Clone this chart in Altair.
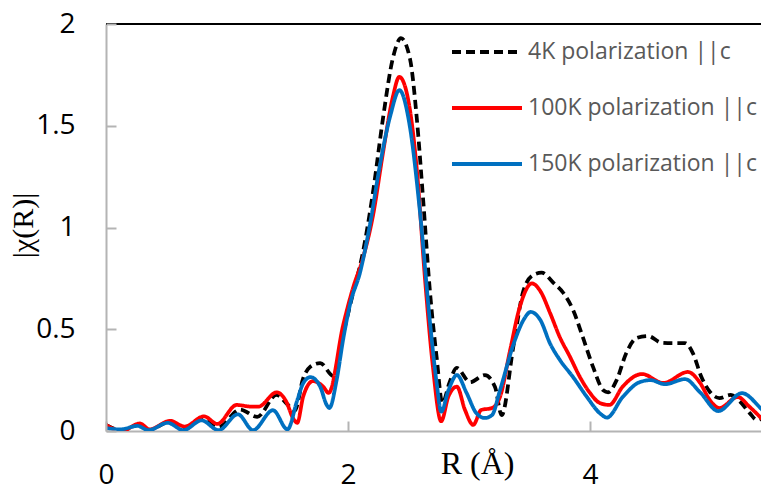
import altair as alt
import pandas as pd

# ---- data ----
series_names = ["4K polarization ||c", "100K polarization ||c", "150K polarization ||c"]

x_4k = [0.0, 0.13, 0.27, 0.36, 0.52, 0.65, 0.80, 0.93, 1.107, 1.25, 1.41, 1.50, 1.56, 1.63, 1.686,
        1.77, 1.88, 1.95, 2.03, 2.124, 2.207, 2.29, 2.37, 2.438, 2.512, 2.568, 2.62, 2.678, 2.733,
        2.78, 2.84, 2.898, 3.008, 3.132, 3.215, 3.27, 3.366, 3.45, 3.53, 3.60, 3.70, 3.78, 3.86,
        3.94, 4.025, 4.11, 4.15, 4.22, 4.30, 4.385, 4.48, 4.59, 4.69, 4.785, 4.85, 4.92, 4.99,
        5.07, 5.16, 5.24, 5.32, 5.38, 5.46, 5.50]
y_4k = [0.03, 0.003, 0.03, 0.004, 0.045, 0.012, 0.062, 0.02, 0.105, 0.07, 0.177, 0.13, 0.10, 0.26, 0.315,
        0.334, 0.27, 0.45, 0.65, 0.88, 1.175, 1.54, 1.83, 1.93, 1.83, 1.54, 1.145, 0.68, 0.36,
        0.137, 0.24, 0.31, 0.24, 0.275, 0.216, 0.078, 0.413, 0.69, 0.766, 0.778, 0.727, 0.678, 0.595,
        0.462, 0.315, 0.20, 0.19, 0.25, 0.383, 0.457, 0.467, 0.434, 0.432, 0.432, 0.383, 0.267, 0.193,
        0.162, 0.177, 0.144, 0.088, 0.054, 0.079, 0.10]

x_100k = [0.0, 0.13, 0.28, 0.36, 0.53, 0.65, 0.81, 0.92, 1.08, 1.20, 1.26, 1.41, 1.49, 1.545, 1.58,
          1.63, 1.71, 1.795, 1.84, 1.96, 2.04, 2.124, 2.207, 2.29, 2.37, 2.424, 2.50, 2.568, 2.636,
          2.70, 2.77, 2.83, 2.90, 2.967, 3.035, 3.10, 3.19, 3.256, 3.34, 3.42, 3.52, 3.587, 3.67,
          3.75, 3.835, 3.917, 4.0, 4.08, 4.16, 4.27, 4.43, 4.605, 4.81, 4.91, 4.99, 5.07, 5.22,
          5.32, 5.43, 5.50]
y_100k = [0.03, 0.0, 0.037, 0.008, 0.05, 0.022, 0.072, 0.035, 0.128, 0.12, 0.12, 0.19, 0.144, 0.064, 0.04,
          0.17, 0.245, 0.218, 0.187, 0.52, 0.70, 0.85, 1.06, 1.37, 1.64, 1.74, 1.62, 1.29, 0.75,
          0.325, 0.048, 0.17, 0.218, 0.103, 0.03, 0.103, 0.113, 0.167, 0.398, 0.61, 0.725, 0.69, 0.58,
          0.462, 0.364, 0.265, 0.187, 0.138, 0.128, 0.218, 0.28, 0.236, 0.29, 0.236, 0.152, 0.113, 0.167,
          0.118, 0.054, 0.01]

x_150k = [0.0, 0.12, 0.26, 0.35, 0.51, 0.64, 0.79, 0.93, 1.09, 1.215, 1.38, 1.50, 1.58, 1.63, 1.69,
          1.77, 1.824, 1.846, 1.906, 1.96, 2.02, 2.10, 2.18, 2.265, 2.35, 2.425, 2.51, 2.595, 2.68,
          2.735, 2.77, 2.83, 2.90, 2.98, 3.06, 3.13, 3.19, 3.256, 3.37, 3.45, 3.51, 3.59, 3.67,
          3.75, 3.86, 3.975, 4.08, 4.14, 4.27, 4.41, 4.50, 4.62, 4.785, 4.91, 5.06, 5.256, 5.40, 5.50]
y_150k = [0.015, 0.008, 0.025, 0.004, 0.04, 0.004, 0.052, 0.004, 0.082, 0.004, 0.102, 0.008, 0.15, 0.235, 0.265,
          0.218, 0.128, 0.113, 0.25, 0.45, 0.63, 0.78, 1.01, 1.31, 1.55, 1.675, 1.50, 1.075, 0.52,
          0.225, 0.095, 0.20, 0.275, 0.187, 0.088, 0.064, 0.078, 0.20, 0.43, 0.545, 0.585, 0.545, 0.43,
          0.35, 0.265, 0.167, 0.088, 0.066, 0.167, 0.24, 0.25, 0.23, 0.255, 0.19, 0.098, 0.186, 0.118, 0.05]

x_ticks = [0, 2, 4]
y_ticks = [0, 0.5, 1, 1.5, 2]

# ---- build table ----
rows = []
for name, xs, ys in [(series_names[0], x_4k, y_4k),
                     (series_names[1], x_100k, y_100k),
                     (series_names[2], x_150k, y_150k)]:
    for i, (a, b) in enumerate(zip(xs, ys)):
        rows.append({"series": name, "R": a, "chi": b, "i": i})
df = pd.DataFrame(rows)

W, H = 655, 407
XMAX = W / 121.0
GRAY = "#b4b4b4"
LABEL_FONT = "Open Sans"
SERIF = "Liberation Serif"

x_scale = alt.Scale(domain=[0, XMAX], nice=False, zero=False)
y_scale = alt.Scale(domain=[0, 2], nice=False)

color_scale = alt.Scale(domain=series_names, range=["#000000", "#ff0000", "#0070c0"])
dash_scale = alt.Scale(domain=series_names, range=[[9, 5], [1, 0], [1, 0]])

legend = alt.Legend(
    title=None, orient="none", legendX=344, legendY=12,
    symbolType="M-1,0H4", symbolSize=784, symbolStrokeWidth=4,
    labelFont=LABEL_FONT, labelFontSize=23, labelColor="#595959",
    labelOffset=46, rowPadding=28, padding=0, labelLimit=400,
)

lines = alt.Chart(df).mark_line(strokeWidth=3.75, clip=True, interpolate="monotone").encode(
    x=alt.X("R:Q", scale=x_scale,
            axis=alt.Axis(orient="bottom", values=x_ticks, ticks=False, tickSize=0, grid=False,
                          domainColor=GRAY, domainWidth=2,
                          labelFont=LABEL_FONT, labelFontSize=28, labelColor="#000000",
                          labelPadding=30, labelFlush=False,
                          title="R (Å)", titleFont=SERIF, titleFontSize=32, titleFontWeight="normal",
                          titleColor="#000000", titleX=371, titleY=42, titleBaseline="alphabetic",
                          titleAlign="center")),
    y=alt.Y("chi:Q", scale=y_scale,
            axis=alt.Axis(orient="left", values=y_ticks, format="~g", ticks=False, tickSize=0, grid=False,
                          domainColor=GRAY, domainWidth=2,
                          labelFont=LABEL_FONT, labelFontSize=28, labelColor="#000000",
                          labelPadding=31, labelFlush=False,
                          title="|χ(R)|", titleFont=SERIF, titleFontSize=30, titleFontWeight="normal",
                          titleColor="#000000", titleX=-83, titleY=201, titleAngle=270,
                          titleBaseline="middle", titleAlign="center")),
    color=alt.Color("series:N", scale=color_scale, legend=legend),
    strokeDash=alt.StrokeDash("series:N", scale=dash_scale, legend=legend),
    order="i:Q",
)

top_line = alt.Chart(df).mark_rule(color="#000000", strokeWidth=2).encode(
    y=alt.YDatum(2, axis=None, scale=y_scale),
)

tick_layer = alt.Chart(df).mark_line(opacity=0).encode(
    x=alt.X("R:Q", scale=x_scale,
            axis=alt.Axis(orient="top", offset=-H, values=x_ticks, domain=False, labels=False,
                          ticks=True, tickSize=10, tickColor=GRAY, tickWidth=2, grid=False,
                          title=None, zindex=2)),
    y=alt.Y("chi:Q", scale=y_scale,
            axis=alt.Axis(orient="right", offset=-W, values=y_ticks, domain=False, labels=False,
                          ticks=True, tickSize=10, tickColor=GRAY, tickWidth=2, grid=False,
                          title=None, zindex=2)),
    detail="series:N",
)

chart = alt.layer(top_line, lines, tick_layer).resolve_axis(x="independent", y="independent").properties(
    width=W, height=H,
    padding={"left": 98, "top": 16, "right": 0, "bottom": 54},
    autosize=alt.AutoSizeParams(type="none"),
).configure_view(stroke=None)

chart.save("out.html", embed_options={"renderer": "svg", "actions": False})
